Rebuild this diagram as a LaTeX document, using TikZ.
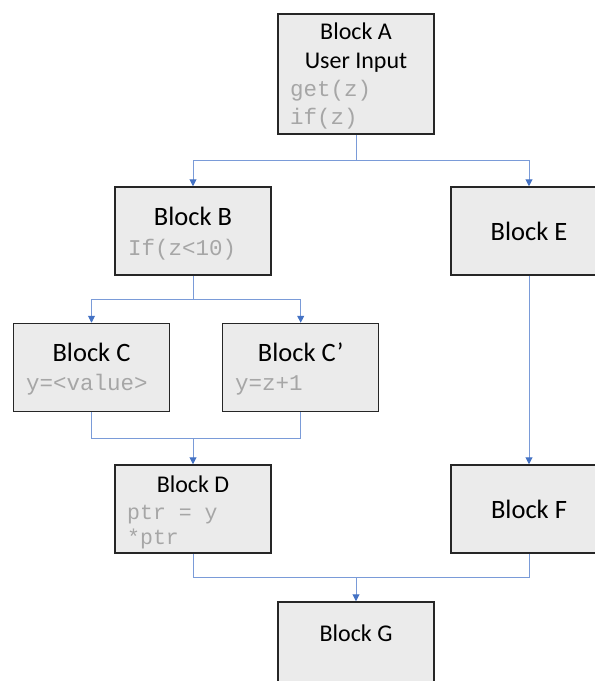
\documentclass[tikz,border=0pt]{standalone}
\usepackage{fontspec}
\setmainfont{Carlito}
\newfontfamily\codefont{Liberation Mono}
\usetikzlibrary{arrows.meta}
\definecolor{boxfill}{HTML}{EBEBEB}
\definecolor{boxline}{HTML}{262626}
\definecolor{connblue}{HTML}{4472C4}
\definecolor{connlight}{HTML}{7A9BD8}
\definecolor{codegray}{HTML}{A6A6A6}
\begin{document}
\begin{tikzpicture}[x=1pt,y=-1pt,
 block/.style={draw=boxline, fill=boxfill, line width=1.5pt, minimum width=156pt, inner sep=0pt},
 title/.style={anchor=base, inner sep=0pt, text=black, font=\fontsize{24}{28}\selectfont},
 bigtitle/.style={anchor=base, inner sep=0pt, text=black, font=\fontsize{26.5}{30}\selectfont},
 code/.style={anchor=base west, inner sep=0pt, text=codegray},
 conn/.style={draw=connlight, line width=1pt},
 arr/.style={conn, -{Triangle[width=7pt,length=7pt,color=connblue]}}
]
\useasboundingbox (0,0) rectangle (595,681);
\clip (0,0) rectangle (595,681);

% boxes
\node[block, minimum height=120pt] (A) at (356,74) {};
\node[block, minimum height=88pt] (B) at (193,231) {};
\node[block, minimum height=88pt] (E) at (529,231) {};
\node[block, minimum height=88pt] (C) at (91.5,367.5) {};
\node[block, minimum height=88pt] (Cp) at (300.7,367.5) {};
\node[block, minimum height=88pt] (D) at (193,509) {};
\node[block, minimum height=88pt] (F) at (529,509) {};
\node[block, minimum height=100pt] (G) at (356,652) {};

% texts
\node[title] (At1) at (356,39) {Block A};
\node[title] (At2) at (356,68.3) {User Input};
\node[code, font=\codefont\fontsize{22.5}{26}\selectfont] (Ac1) at (290,96) {get(z)};
\node[code, font=\codefont\fontsize{22.5}{26}\selectfont] (Ac2) at (290,124) {if(z)};

\node[bigtitle] (Bt) at (193,225) {Block B};
\node[code, font=\codefont\fontsize{22.5}{26}\selectfont] (Bc) at (128,255) {If(z<10)};

\node[bigtitle] (Et) at (529,240) {Block E};

\node[bigtitle] (Ct) at (91.5,361.7) {Block C};
\node[code, font=\codefont\fontsize{22.5}{27}\selectfont] (Cc) at (26,390.7) {y=<value>};

\node[bigtitle] (Cpt) at (300.7,361.7) {Block C’};
\node[code, font=\codefont\fontsize{22.5}{27}\selectfont] (Cpc) at (235,390.7) {y=z+1};

\node[title] (Dt) at (193,492.3) {Block D};
\node[code, font=\codefont\fontsize{21.5}{25}\selectfont] (Dc1) at (127,519) {ptr = y};
\node[code, font=\codefont\fontsize{21.5}{25}\selectfont] (Dc2) at (127,544.3) {*ptr};

\node[bigtitle] (Ft) at (529,518.3) {Block F};
\node[title] (Gt) at (356,641.7) {Block G};

% connectors
\coordinate (jA) at (356,160);
\draw[conn] (A.south) -- (jA);
\draw[arr] (jA) -| (B.north);
\draw[arr] (jA) -| (E.north);

\coordinate (jB) at (193,299.3);
\draw[conn] (B.south) -- (jB);
\draw[arr] (jB) -| (C.north);
\draw[arr] (jB) -| (Cp.north);

\coordinate (jD) at (193,438.5);
\draw[conn] (C.south) |- (jD);
\draw[conn] (Cp.south) |- (jD);
\draw[arr] (jD) -- (D.north);

\draw[arr] (E.south) -- (F.north);

\coordinate (jG) at (356,577.5);
\draw[conn] (D.south) |- (jG);
\draw[conn] (F.south) |- (jG);
\draw[arr] (jG) -- (G.north);
\end{tikzpicture}
\end{document}
